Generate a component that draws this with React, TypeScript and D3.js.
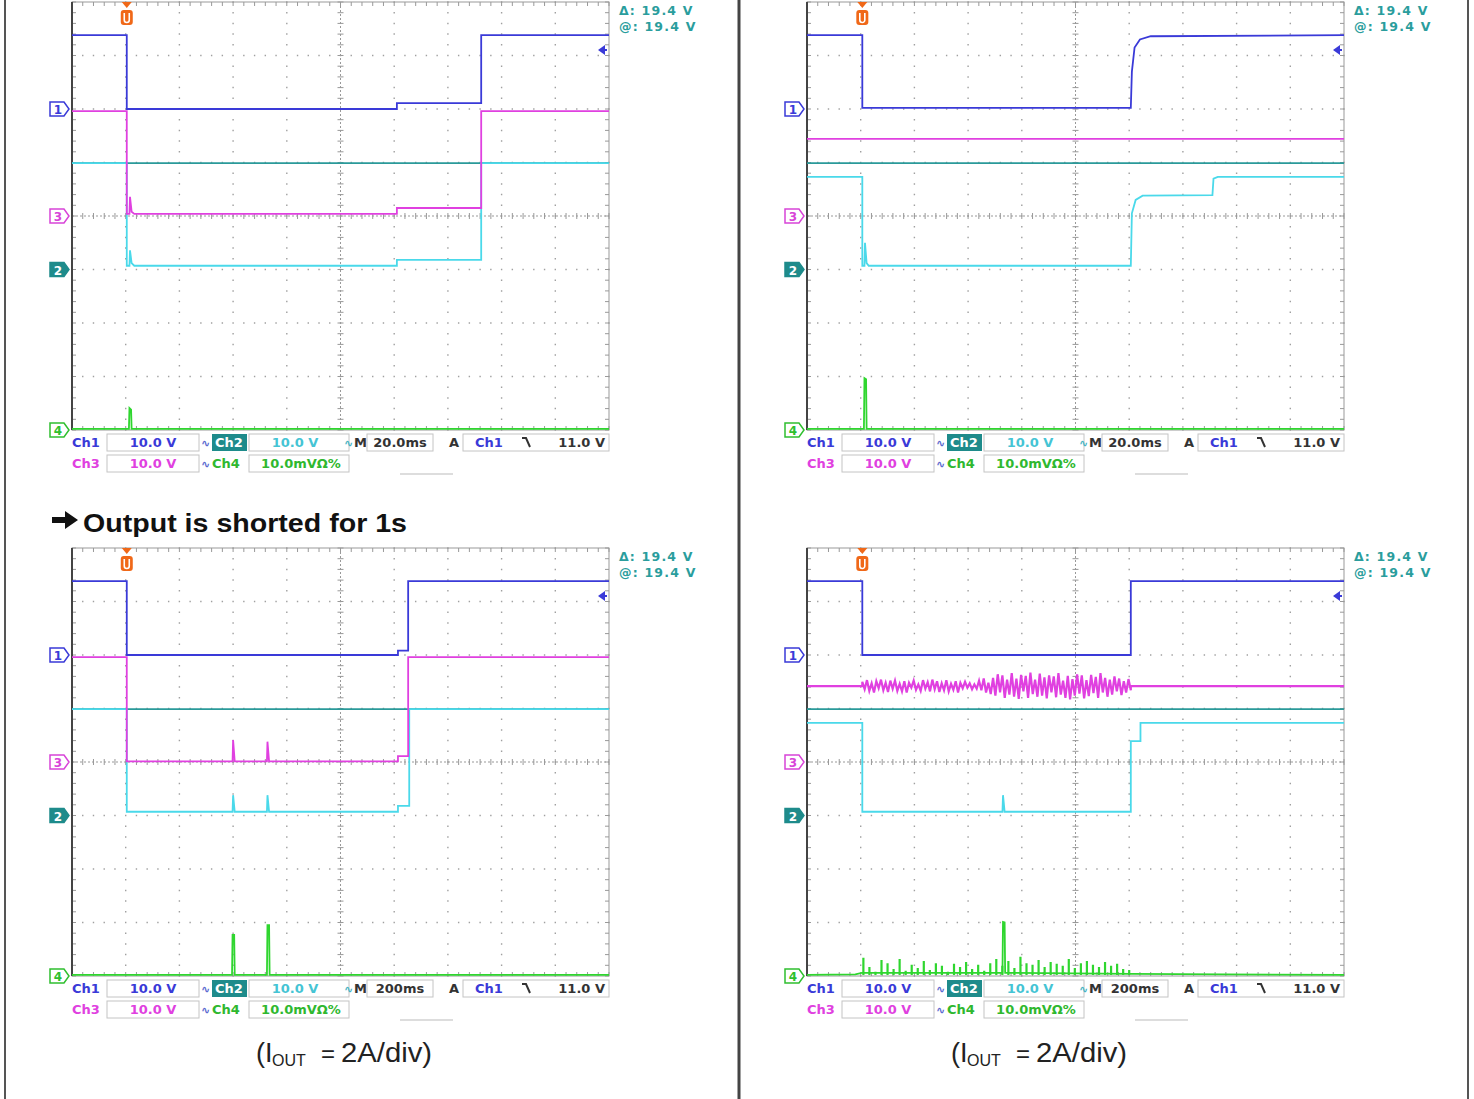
import React from "react";
import * as d3 from "d3";

type P = [number, number];

// ---------- DATA (time in divisions 0..10, level in divisions -4..+4) ----------
const tlCh1: P[] = [[0, 3.38], [1.02, 3.38], [1.02, 2.0], [6.05, 2.0], [6.05, 2.11], [7.62, 2.11], [7.62, 3.38], [10, 3.38]];
const tlCh3: P[] = [[0, 1.96], [1.02, 1.96], [1.02, 0.04], [1.07, 0.04], [1.08, 0.36], [1.11, 0.08], [1.16, 0.04], [6.05, 0.04], [6.05, 0.15], [7.62, 0.15], [7.62, 1.96], [10, 1.96]];
const tlCh2: P[] = [[0, 0.99], [1.02, 0.99], [1.02, -0.93], [1.07, -0.93], [1.08, -0.64], [1.11, -0.88], [1.16, -0.93], [6.05, -0.93], [6.05, -0.82], [7.62, -0.82], [7.62, 0.99], [10, 0.99]];
const tlCh4: P[] = [[0, -3.98], [1.06, -3.98], [1.07, -3.59], [1.1, -3.62], [1.11, -3.98], [10, -3.98]];

const trCh1: P[] = [[0, 3.38], [1.03, 3.38], [1.03, 2.02], [6.03, 2.02], [6.05, 2.7], [6.1, 3.15], [6.2, 3.3], [6.4, 3.36], [10, 3.38]];
const trCh3: P[] = [[0, 1.44], [10, 1.44]];
const trCh2: P[] = [[0, 0.73], [1.03, 0.73], [1.03, -0.93], [1.07, -0.93], [1.08, -0.5], [1.11, -0.88], [1.15, -0.93], [6.03, -0.93], [6.05, 0.05], [6.12, 0.3], [6.25, 0.38], [7.55, 0.39], [7.57, 0.7], [7.65, 0.73], [10, 0.73]];
const trCh4: P[] = [[0, -3.98], [1.06, -3.98], [1.07, -3.03], [1.1, -3.05], [1.11, -3.98], [10, -3.98]];

const blCh1: P[] = [[0, 3.38], [1.02, 3.38], [1.02, 2.0], [6.07, 2.0], [6.07, 2.08], [6.26, 2.08], [6.26, 3.38], [10, 3.38]];
const blCh3: P[] = [[0, 1.96], [1.02, 1.96], [1.02, 0.01], [2.99, 0.01], [3.0, 0.41], [3.03, 0.01], [3.63, 0.01], [3.64, 0.38], [3.67, 0.01], [6.07, 0.01], [6.07, 0.11], [6.26, 0.11], [6.26, 1.96], [10, 1.96]];
const blCh2: P[] = [[0, 0.99], [1.02, 0.99], [1.02, -0.93], [2.99, -0.93], [3.0, -0.62], [3.03, -0.93], [3.63, -0.93], [3.64, -0.62], [3.67, -0.93], [6.07, -0.93], [6.07, -0.82], [6.28, -0.82], [6.28, 0.99], [10, 0.99]];
const blCh4: P[] = [[0, -3.98], [2.98, -3.98], [2.99, -3.23], [3.02, -3.23], [3.03, -3.98], [3.63, -3.98], [3.64, -3.05], [3.67, -3.05], [3.68, -3.98], [10, -3.98]];

const brCh1: P[] = [[0, 3.38], [1.03, 3.38], [1.03, 2.0], [6.03, 2.0], [6.03, 3.38], [10, 3.38]];
const brCh3Level = 1.42;
const brCh3Burst = [
  0.08, -0.06, 0.11, -0.09, 0.05, -0.12, 0.09, -0.04, 0.12, -0.08, 0.06, -0.11, 0.10, -0.05,
  0.10, -0.09, 0.04, -0.10, 0.09, -0.12, 0.06, -0.03, 0.10, -0.07, 0.03, -0.09, 0.11, -0.05,
  0.07, -0.10, 0.12, -0.06, 0.09, -0.11, 0.05, -0.08, 0.11, -0.10, 0.04, -0.07, 0.09, -0.12,
  0.06, -0.04, 0.08, -0.03, 0.05, -0.06, 0.03, -0.05, 0.10, -0.08, 0.14, -0.12, 0.06, -0.15,
  0.15, -0.18, 0.22, -0.12, 0.20, -0.22, 0.12, -0.16, 0.24, -0.20, 0.14, -0.24, 0.21, -0.10,
  0.19, -0.22, 0.25, -0.15, 0.12, -0.20, 0.23, -0.18, 0.16, -0.23, 0.20, -0.12, 0.18, -0.21,
  0.24, -0.16, 0.10, -0.22, 0.19, -0.25, 0.13, -0.18, 0.22, -0.14, 0.20, -0.23, 0.11, -0.19,
  0.21, -0.13, 0.17, -0.22, 0.24, -0.12, 0.15, -0.20, 0.12, -0.16, 0.18, -0.10, 0.14, -0.17,
  0.09, -0.12, 0.13, -0.08,
];
const brCh2: P[] = [[0, 0.73], [1.03, 0.73], [1.03, -0.93], [3.64, -0.93], [3.65, -0.62], [3.68, -0.93], [6.03, -0.93], [6.03, 0.39], [6.21, 0.39], [6.21, 0.73], [10, 0.73]];
const brCh4: P[] = [[0, -3.98], [0.9, -3.97], [1.02, -3.94], [3.64, -3.94], [3.65, -2.99], [3.68, -3.0], [3.69, -3.94], [6.05, -3.96], [10, -3.98]];
const brCh4Bars = [
  0.32, 0.15, 0.06, 0.28, 0.22, 0.11, 0.30, 0.08, 0.19, 0.13, 0.26, 0.09, 0.22, 0.17,
  0.06, 0.21, 0.15, 0.24, 0.11, 0.19, 0.08, 0.22, 0.30, 0.17, 0.26, 0.13, 0.34, 0.22,
  0.19, 0.28, 0.15, 0.24, 0.21, 0.17, 0.30, 0.13, 0.22, 0.26, 0.19, 0.15, 0.24, 0.17,
  0.21, 0.11, 0.09,
];

const ch2RefLevel = 0.99;
const timebases = ["20.0ms", "20.0ms", "200ms", "200ms"];
const triggerTimes = [1.02, 1.03, 1.02, 1.03];
const cursorTexts = ["Δ: 19.4 V", "@: 19.4 V"];
const chMarkers = [
  { ch: "1", level: 2, color: "#3a3ad8", filled: false },
  { ch: "3", level: 0, color: "#d844d8", filled: false },
  { ch: "2", level: -1, color: "#1e8b8b", filled: true },
  { ch: "4", level: -4, color: "#2fbf2f", filled: false },
];

// ---------- STYLE ----------
const C = {
  ch1: "#3a3ad8",
  ch2: "#4ad9ea",
  ch2ref: "#2a9a9a",
  ch3: "#e040e0",
  ch4: "#2fd62f",
  orange: "#f06818",
  grid: "#a0a0a0",
  teal: "#2a9d9d",
};
const PW = 537;
const PH = 428;
const origins: [number, number][] = [[72, 2], [807, 2], [72, 548], [807, 548]];
const LABEL_FONT = "'DejaVu Sans', sans-serif";
const SW = 1.8;

type Traces = { ch1: P[]; ch2: P[]; ch3: P[] | null; ch4: P[]; burst?: boolean; bars?: boolean };
const panelTraces: Traces[] = [
  { ch1: tlCh1, ch2: tlCh2, ch3: tlCh3, ch4: tlCh4 },
  { ch1: trCh1, ch2: trCh2, ch3: trCh3, ch4: trCh4 },
  { ch1: blCh1, ch2: blCh2, ch3: blCh3, ch4: blCh4 },
  { ch1: brCh1, ch2: brCh2, ch3: null, ch4: brCh4, burst: true, bars: true },
];

function Grid({ x, y }: { x: d3.ScaleLinear<number, number>; y: d3.ScaleLinear<number, number> }) {
  const minorX = d3.range(0, 51).map((i) => i / 5);
  const minorY = d3.range(0, 41).map((i) => -4 + i / 5);
  let dots = "";
  [1, 2, 3, 4, 6, 7, 8, 9].forEach((i) => {
    minorY.forEach((v) => {
      dots += `M${x(i) - 0.7},${y(v)}h1.4`;
    });
  });
  [-3, -2, -1, 1, 2, 3].forEach((k) => {
    minorX.forEach((t) => {
      dots += `M${x(t) - 0.7},${y(k)}h1.4`;
    });
  });
  let ticks = "";
  minorY.forEach((v) => {
    ticks += `M${x(5) - 3},${y(v)}h6`;
    ticks += `M${x(0)},${y(v)}h4`;
    ticks += `M${x(10)},${y(v)}h-4`;
  });
  minorX.forEach((t) => {
    ticks += `M${x(t)},${y(0) - 3}v6`;
    ticks += `M${x(t)},${y(4)}v4`;
    ticks += `M${x(t)},${y(-4)}v-4`;
  });
  return (
    <g>
      <path d={dots} stroke={C.grid} strokeWidth={1.5} fill="none" />
      <line x1={x(5)} x2={x(5)} y1={y(4)} y2={y(-4)} stroke="#999" strokeWidth={1} strokeDasharray="2,2" />
      <line x1={x(0)} x2={x(10)} y1={y(0)} y2={y(0)} stroke="#999" strokeWidth={1} strokeDasharray="2,2" />
      <path d={ticks} stroke="#999" strokeWidth={1} fill="none" />
      <rect x={x(0)} y={y(4)} width={PW} height={PH} fill="none" stroke="#999" strokeWidth={1} />
      <line x1={x(0)} x2={x(0)} y1={y(4)} y2={y(-4)} stroke="#444" strokeWidth={2} />
    </g>
  );
}

function Panel({ idx }: { idx: number }) {
  const [x0, y0] = origins[idx];
  const x = d3.scaleLinear().domain([0, 10]).range([x0, x0 + PW]);
  const y = d3.scaleLinear().domain([-4, 4]).range([y0 + PH, y0]);
  const line = d3.line<P>().x((d) => x(d[0])).y((d) => y(d[1]));
  const tr = panelTraces[idx];
  const tTrig = triggerTimes[idx];
  const tx = x(tTrig);
  const yb = y0 + PH;

  let ch3Path = tr.ch3 ? line(tr.ch3) : "";
  if (tr.burst) {
    const n = brCh3Burst.length;
    const pts: P[] = [[0, brCh3Level], [1.03, brCh3Level]];
    brCh3Burst.forEach((v, i) => pts.push([1.03 + (i * 5.0) / (n - 1), brCh3Level + v]));
    pts.push([6.03, brCh3Level], [10, brCh3Level]);
    ch3Path = line(pts);
  }
  let barsPath = "";
  if (tr.bars) {
    const n = brCh4Bars.length;
    brCh4Bars.forEach((h, i) => {
      const t = 1.05 + (i * 4.95) / (n - 1);
      barsPath += `M${x(t)},${y(-3.98)}V${y(-3.98 + h)}`;
    });
  }

  const bold = { fontFamily: LABEL_FONT, fontWeight: 700, fontSize: 13 } as const;
  const r1 = yb + 17;
  const r2 = yb + 38;
  const box = (bx: number, by: number, bw: number) => (
    <rect x={x0 + bx} y={by} width={bw} height={17} fill="#fff" stroke="#c4c4c4" strokeWidth={1} />
  );

  return (
    <g>
      <Grid x={x} y={y} />
      {chMarkers.map((m) => {
        const my = y(m.level);
        const mx = x0 - 22;
        const d = `M${mx},${my - 7}h14l5,7l-5,7h-14z`;
        return (
          <g key={m.ch}>
            <path d={d} fill={m.filled ? m.color : "#fff"} stroke={m.color} strokeWidth={1.5} />
            <text x={mx + 8} y={my + 5} fontFamily={LABEL_FONT} fontWeight={700} fontSize={12} fill={m.filled ? "#fff" : m.color} textAnchor="middle">
              {m.ch}
            </text>
          </g>
        );
      })}
      <line x1={x(0)} x2={x(10)} y1={y(ch2RefLevel)} y2={y(ch2RefLevel)} stroke={C.ch2ref} strokeWidth={SW} />
      <path d={line(tr.ch4) || ""} fill="none" stroke={C.ch4} strokeWidth={SW} />
      {barsPath && <path d={barsPath} fill="none" stroke={C.ch4} strokeWidth={2.2} />}
      <path d={line(tr.ch2) || ""} fill="none" stroke={C.ch2} strokeWidth={SW} />
      <path d={ch3Path || ""} fill="none" stroke={C.ch3} strokeWidth={tr.burst ? 2.2 : SW} />
      <path d={line(tr.ch1) || ""} fill="none" stroke={C.ch1} strokeWidth={SW} />
      <path d={`M${tx - 5},${y0}L${tx + 5},${y0}L${tx},${y0 + 6}z`} fill={C.orange} />
      <rect x={tx - 6} y={y0 + 8} width={12} height={15} rx={3} fill={C.orange} />
      <path d={`M${tx - 2.5},${y0 + 11}v7a2.5,2.5 0 0 0 5,0v-7`} fill="none" stroke="#fff" strokeWidth={1.6} />
      <path d={`M${x0 + 526},${y0 + 48}l7,-5v10z`} fill={C.ch1} />
      <line x1={x0 + 532} x2={x0 + 535} y1={y0 + 48} y2={y0 + 48} stroke={C.ch1} strokeWidth={2} />
      {cursorTexts.map((t, i) => (
        <text key={t} x={x0 + 547} y={y0 + 13 + i * 16} {...bold} fontSize={12.5} letterSpacing={1.2} fill={C.teal}>
          {t}
        </text>
      ))}
      <text x={x0} y={r1} {...bold} fill={C.ch1}>Ch1</text>
      {box(35, yb + 4, 92)}
      <text x={x0 + 81} y={r1} {...bold} fill={C.ch1} textAnchor="middle">10.0 V</text>
      <text x={x0 + 129} y={r1} {...bold} fontSize={11} fill="#5a6ad0">∿</text>
      <rect x={x0 + 140} y={yb + 4} width={35} height={17} fill="#1e8b8b" />
      <text x={x0 + 157} y={r1} {...bold} fill="#fff" textAnchor="middle">Ch2</text>
      {box(177, yb + 4, 100)}
      <text x={x0 + 223} y={r1} {...bold} fill="#45c4d4" textAnchor="middle">10.0 V</text>
      <text x={x0 + 272} y={r1} {...bold} fontSize={11} fill="#45b4c4">∿</text>
      <text x={x0 + 282} y={r1} {...bold} fill="#333">M</text>
      {box(295, yb + 4, 66)}
      <text x={x0 + 328} y={r1} {...bold} fill="#333" textAnchor="middle">{timebases[idx]}</text>
      <text x={x0 + 377} y={r1} {...bold} fill="#333">A</text>
      {box(391, yb + 4, 146)}
      <text x={x0 + 403} y={r1} {...bold} fill={C.ch1}>Ch1</text>
      <path d={`M${x0 + 450},${yb + 8}h4l4,9`} fill="none" stroke="#333" strokeWidth={2} />
      <text x={x0 + 533} y={r1} {...bold} fill="#333" textAnchor="end">11.0 V</text>

      <text x={x0} y={r2} {...bold} fill={C.ch3}>Ch3</text>
      {box(35, yb + 25, 92)}
      <text x={x0 + 81} y={r2} {...bold} fill={C.ch3} textAnchor="middle">10.0 V</text>
      <text x={x0 + 129} y={r2} {...bold} fontSize={11} fill="#5a6ad0">∿</text>
      <text x={x0 + 140} y={r2} {...bold} fill="#2fb82f">Ch4</text>
      {box(177, yb + 25, 100)}
      <text x={x0 + 229} y={r2} {...bold} fill="#2fb82f" textAnchor="middle">10.0mVΩ%</text>
      <line x1={x0 + 328} x2={x0 + 381} y1={yb + 44} y2={yb + 44} stroke="#bbb" strokeWidth={1} />
    </g>
  );
}

function Caption({ x0 }: { x0: number }) {
  const f = "'Liberation Sans', Arial, sans-serif";
  return (
    <g fontFamily={f} fill="#222">
      <text x={x0} y={1062} fontSize={27}>(I</text>
      <text x={x0 + 16} y={1066} fontSize={16}>OUT</text>
      <text x={x0 + 65} y={1062} fontSize={24}>=</text>
      <text x={x0 + 85} y={1062} fontSize={27} textLength={91} lengthAdjust="spacingAndGlyphs">2A/div)</text>
    </g>
  );
}

export default function App() {
  return (
    <svg width={1474} height={1099} style={{ position: "absolute", left: 0, top: 0, background: "#fff" }}>
      <rect x={0} y={0} width={1474} height={1099} fill="#fff" />
      <line x1={5} x2={5} y1={0} y2={1099} stroke="#555" strokeWidth={2} />
      <line x1={739} x2={739} y1={0} y2={1099} stroke="#444" strokeWidth={3} />
      <line x1={1468} x2={1468} y1={0} y2={1099} stroke="#555" strokeWidth={2} />
      {origins.map((_, i) => (
        <Panel key={i} idx={i} />
      ))}
      <path d="M52,517h13v-6l13,9l-13,9v-6h-13z" fill="#111" />
      <text x={83} y={532} fontFamily="'Liberation Sans', Arial, sans-serif" fontWeight={700} fontSize={26} fill="#111" textLength={324} lengthAdjust="spacingAndGlyphs">
        Output is shorted for 1s
      </text>
      <Caption x0={256} />
      <Caption x0={951} />
    </svg>
  );
}
